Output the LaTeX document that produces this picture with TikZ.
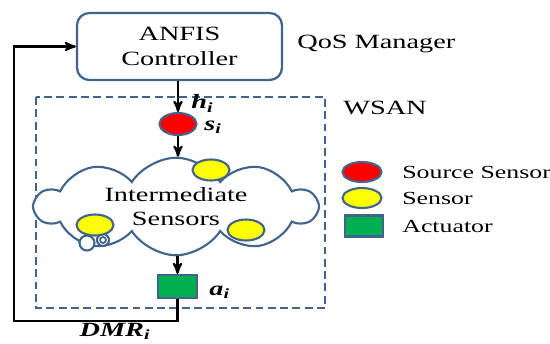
\documentclass[tikz,border=0pt]{standalone}
\usepackage{fontspec}
\setmainfont{Liberation Serif}[FakeStretch=1.4]
\usepackage{xcolor}
\usepackage{tikz}
\usetikzlibrary{positioning}
\usetikzlibrary{arrows,shapes}
\definecolor{edgeblue}{HTML}{41648C}
\definecolor{srcred}{HTML}{FF0000}
\definecolor{senyellow}{HTML}{FFFF00}
\definecolor{actgreen}{HTML}{00B050}
\newcommand{\lbl}[2]{\textbf{\textit{#1}\textsubscript{\textit{#2}}}}

\begin{document}
\begin{tikzpicture}
            [
            box/.style={rectangle,rounded corners=7pt,draw=edgeblue,line width=1.3pt,minimum width=4.1cm,minimum height=1.34cm,align=center,font=\fontsize{11.5}{14}\selectfont},
            source/.style={ellipse,draw=edgeblue,line width=1.2pt,fill=srcred,minimum width=0.74cm,minimum height=0.44cm,inner sep=0pt},
            sensor/.style={source,fill=senyellow,minimum height=0.42cm},
            actuator/.style={rectangle,draw=edgeblue,line width=1.2pt,fill=actgreen,minimum width=0.78cm,minimum height=0.46cm,inner sep=0pt},
            txt/.style={font=\fontsize{11.5}{14}\selectfont,inner sep=0pt,align=center},
            legend/.style={font=\fontsize{10.5}{12}\selectfont,inner sep=0pt,anchor=west},
            edge/.style={->,>=stealth',line width=1.2pt}
            ]
        \useasboundingbox (0,0) rectangle (11,-6.86);
        % controller and network
        \node[box] (anfis) at (3.59,-0.93) {ANFIS\\Controller};
        \node[txt,anchor=west] (qos) at (5.94,-0.88) {QoS Manager};
        \draw[edgeblue,line width=1.2pt,dash pattern=on 4.5pt off 2.5pt] (0.72,-1.94) rectangle (6.5,-6.16);
        \node[txt,anchor=west] (wsan) at (6.86,-2.16) {WSAN};
        \node[source] (src) at (3.56,-2.48) {};
        \node[txt,anchor=west] (hi) at (3.82,-2.07) {\lbl{h}{i}};
        \node[txt,anchor=west] (si) at (4.08,-2.54) {\lbl{s}{i}};
        \node[cloud,draw=edgeblue,line width=1.2pt,fill=white,cloud puffs=10,cloud puff arc=115,
              cloud ignores aspect,minimum width=5.62cm,minimum height=1.95cm,txt] (cloud) at (3.52,-4.13) {Intermediate\\Sensors};
        \draw[edgeblue,line width=1.2pt,fill=white] (1.74,-4.86) circle (0.15);
        \draw[edgeblue,line width=1.2pt,fill=white] (2.06,-4.8) circle (0.12);
        \draw[edgeblue,line width=1pt] (2.06,-4.8) circle (0.06);
        \node[sensor] (s1) at (4.22,-3.4) {};
        \node[sensor] (s2) at (1.9,-4.5) {};
        \node[sensor] (s3) at (4.92,-4.6) {};
        \node[actuator] (act) at (3.55,-5.73) {};
        \node[txt,anchor=west] (ai) at (4.18,-5.84) {\lbl{a}{i}};
        \coordinate (fb) at (0.28,-6.42);
        \node[txt] (dmr) at (2.3,-6.62) {\lbl{DMR}{i}};
        \draw[edge] (anfis.south -| src) -- (src.north);
        \draw[edge] (src.south) -- (src |- cloud.north);
        \draw[edge] (act |- cloud.south) -- (act.north);
        \draw[edge] (act.south) |- (fb) |- (anfis.west);
        % legend
        \node[source,minimum width=0.78cm,minimum height=0.4cm] (lsrc) at (7.24,-3.44) {};
        \node[sensor,minimum width=0.78cm,minimum height=0.4cm] (lsen) at (7.24,-3.96) {};
        \node[actuator,minimum width=0.76cm,minimum height=0.42cm] (lact) at (7.28,-4.52) {};
        \node[legend] (tsrc) at (8.04,-3.44) {Source Sensor};
        \node[legend] (tsen) at (8.04,-3.96) {Sensor};
        \node[legend] (tact) at (8.04,-4.52) {Actuator};
\end{tikzpicture}
\end{document}
